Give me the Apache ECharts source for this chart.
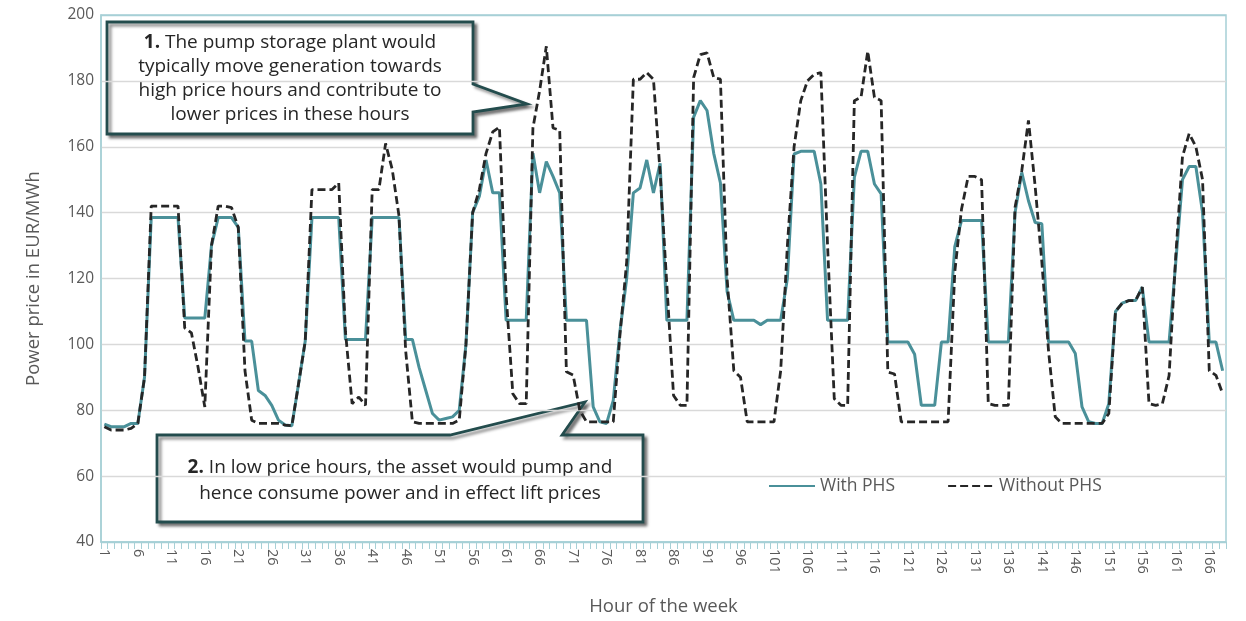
<!DOCTYPE html>
<html>
<head>
<meta charset="utf-8">
<script src="https://cdn.jsdelivr.net/npm/echarts@6/dist/echarts.min.js"></script>
<style>
html,body{margin:0;padding:0;background:#fff;}
#chart{width:1246px;height:621px;}
</style>
</head>
<body>
<div id="chart"></div>
<script>
// ---- data ----
const hours = Array.from({length: 168}, (_, i) => String(i + 1));
const yTicks = [40, 60, 80, 100, 120, 140, 160, 180, 200];
const withPHS = [
  75.8, 75, 75, 75, 76, 76, 90, 138.5, 138.5, 138.5,
  138.5, 138.5, 108, 108, 108, 108, 130, 138.5, 138.5, 138.5,
  135.5, 101, 101, 86, 84.5, 81.5, 77, 75.5, 75.3, 88,
  101, 138.5, 138.5, 138.5, 138.5, 138.5, 101.5, 101.5, 101.5, 101.5,
  138.5, 138.5, 138.5, 138.5, 138.5, 101.5, 101.5, 93, 86, 79,
  77, 77.5, 78, 80, 100, 140, 145, 156, 146, 146,
  107.3, 107.3, 107.3, 107.3, 158, 146, 155.5, 151, 146, 107.3,
  107.3, 107.3, 107.3, 81, 76.5, 76, 83, 104, 120, 146,
  147.5, 156, 146, 155, 107.3, 107.3, 107.3, 107.3, 169, 174,
  171, 158, 149, 116, 107.3, 107.3, 107.3, 107.3, 106, 107.3,
  107.3, 107.3, 120, 157.8, 158.6, 158.6, 158.6, 148.7, 107.3, 107.3,
  107.3, 107.3, 150.7, 158.6, 158.6, 148.7, 145.7, 100.7, 100.7, 100.7,
  100.7, 97, 81.5, 81.5, 81.5, 100.7, 100.7, 129.7, 137.6, 137.6,
  137.6, 137.6, 100.7, 100.7, 100.7, 100.7, 140, 152.2, 143.6, 137,
  136.6, 100.7, 100.7, 100.7, 100.7, 97.2, 81, 76.5, 76, 76,
  82, 110, 112.5, 113.3, 113.3, 117.4, 100.7, 100.7, 100.7, 100.7,
  125, 150, 154, 154, 140, 100.7, 100.7, 92
];
const withoutPHS = [
  75, 74, 74, 74, 74.5, 76, 90, 142, 142, 142,
  142, 142, 105, 103.5, 93, 81, 130, 142, 142, 141.5,
  135.5, 92, 77, 76, 76, 76, 76, 75.5, 75.3, 88,
  101, 147, 147, 147, 147, 149, 104, 82, 84, 81.5,
  147, 147, 161, 153, 139, 98, 76.5, 76, 76, 76,
  76, 76, 76, 77, 100, 140, 147, 158, 164.5, 166,
  115, 85, 82, 82, 165.7, 177, 190.5, 165.7, 165, 91.7,
  90.7, 80, 76.5, 76.5, 76.5, 76.5, 76.5, 103, 125, 180.5,
  180.5, 182.5, 180.5, 152, 118, 84.5, 81.5, 81.5, 181, 188,
  188.5, 181, 180.5, 120, 92, 90, 76.5, 76.5, 76.5, 76.5,
  76.5, 92, 130, 160, 174, 180, 182, 182.5, 130, 83.5,
  81.5, 81.5, 174, 175, 189, 175, 174, 91.6, 91, 76.5,
  76.5, 76.5, 76.5, 76.5, 76.5, 76.5, 76.5, 122, 141, 151,
  151, 150, 82, 81.5, 81.5, 81.5, 141.6, 152.7, 168, 148,
  125, 98, 78, 76, 76, 76, 76, 76, 76, 76,
  79, 110, 112.5, 113.3, 113.3, 117.4, 82, 81.5, 82, 90.5,
  127, 157, 164, 160, 150, 92, 90.6, 85
];
const callout1 = ['1.', 'The pump storage plant would', 'typically move generation towards', 'high price hours and contribute to', 'lower prices in these hours'];
const callout2 = ['2.', 'In low price hours, the asset would pump and', 'hence consume power and in effect lift prices'];

// ---- styles ----
const FONT = 'Open Sans';
const TEAL = '#4a9099';
const DARK = '#262626';
const AXIS_BLUE = '#a7d0d6';
const GRID_GRAY = '#d9d9d9';
const LABEL = '#595959';
const BOX = '#234c4d';

const chart = echarts.init(document.getElementById('chart'), null, {renderer: 'canvas'});

const splitColors = yTicks.map((v, i) => (i === 0 || i === yTicks.length - 1) ? AXIS_BLUE : GRID_GRAY);

function callout(points, lines, cx, y0, lh) {
  const first = '{b|' + lines[0] + '} ' + lines[1];
  const txt = [first].concat(lines.slice(2)).join('\n');
  return {
    type: 'group',
    z: 100,
    children: [
      {
        type: 'polygon',
        shape: {points: points},
        style: {
          fill: '#fff', stroke: BOX, lineWidth: 2.8,
          shadowBlur: 3, shadowOffsetX: 3, shadowOffsetY: 3, shadowColor: 'rgba(0,0,0,0.45)'
        }
      },
      {
        type: 'text',
        x: cx, y: y0,
        style: {
          text: txt,
          align: 'center', verticalAlign: 'top',
          font: '19px "' + FONT + '"',
          fill: DARK,
          lineHeight: lh,
          rich: {
            b: {fontWeight: 'bold', fontSize: 19, fontFamily: FONT, fill: DARK, lineHeight: lh}
          }
        }
      }
    ]
  };
}

const option = {
  animation: false,
  backgroundColor: '#fff',
  textStyle: {fontFamily: FONT},
  grid: {
    left: 101, right: 20, top: 15, bottom: 78,
    show: true, borderColor: AXIS_BLUE, borderWidth: 1.5, backgroundColor: 'transparent'
  },
  legend: {
    left: 768, top: 477, padding: 0,
    itemWidth: 46, itemHeight: 14, itemGap: 52,
    itemStyle: {opacity: 0},
    textStyle: {color: LABEL, fontSize: 17.5, fontFamily: FONT},
    data: ['With PHS', 'Without PHS']
  },
  xAxis: {
    type: 'category',
    data: hours,
    boundaryGap: true,
    name: 'Hour of the week',
    nameLocation: 'middle',
    nameGap: 55,
    nameTextStyle: {color: LABEL, fontSize: 18.5, fontFamily: FONT},
    axisLine: {show: true, lineStyle: {color: AXIS_BLUE, width: 1.5}},
    axisTick: {show: true, interval: 0, length: 7, lineStyle: {color: AXIS_BLUE}},
    axisLabel: {interval: 4, rotate: -90, color: LABEL, fontSize: 14.5, fontFamily: FONT, margin: 7},
    splitLine: {show: false}
  },
  yAxis: {
    type: 'value',
    min: 40, max: 200, interval: 20,
    name: 'Power price in EUR/MWh',
    nameLocation: 'middle',
    nameGap: 58,
    nameTextStyle: {color: LABEL, fontSize: 18.5, fontFamily: FONT},
    axisLine: {show: true, lineStyle: {color: AXIS_BLUE, width: 1.5}},
    axisTick: {show: false},
    axisLabel: {color: LABEL, fontSize: 15.5, fontFamily: FONT, margin: 7},
    splitLine: {show: true, lineStyle: {color: splitColors, width: 1.3}}
  },
  series: [
    {
      name: 'With PHS', type: 'line', data: withPHS,
      symbol: 'none', smooth: false,
      itemStyle: {color: TEAL},
      lineStyle: {color: TEAL, width: 3},
      z: 3
    },
    {
      name: 'Without PHS', type: 'line', data: withoutPHS,
      symbol: 'none', smooth: false,
      itemStyle: {color: DARK},
      lineStyle: {color: DARK, width: 2.8, type: [8, 4]},
      z: 4
    }
  ],
  graphic: [
    callout([[107,22],[473,22],[473,84],[527,104],[473,112],[473,134],[107,134]], callout1, 290, 31, 24),
    callout([[157,435],[450,435],[585,402],[562,435],[643,435],[643,522],[157,522]], callout2, 400, 455, 26)
  ]
};
chart.setOption(option);
</script>
</body>
</html>
